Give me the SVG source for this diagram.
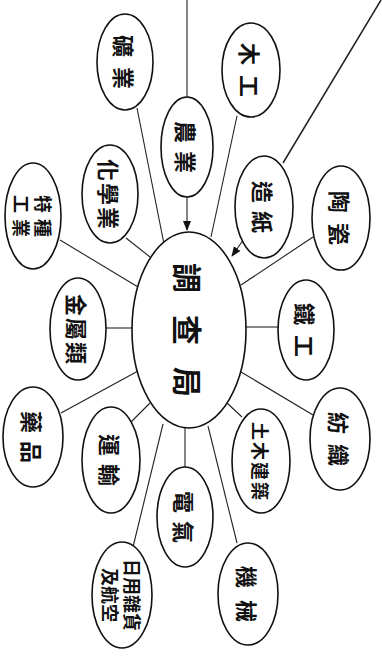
<svg xmlns="http://www.w3.org/2000/svg" width="382" height="661" viewBox="0 0 382 661">
<defs>
<style>
.n{fill:#fff;stroke:#111;stroke-width:1.6}
.c{stroke:#222;stroke-width:1.1;fill:none}
.t{font-family:"Noto Sans CJK TC","Noto Sans CJK SC",sans-serif;font-size:22px;fill:#111;text-anchor:middle;dominant-baseline:central;font-weight:bold}
.s{font-size:18px}
.m{font-size:30px;letter-spacing:22px}
</style>
<marker id="ah" markerWidth="10" markerHeight="10" refX="9" refY="5" orient="auto" markerUnits="userSpaceOnUse">
<path d="M0,1 L10,5 L0,9 z" fill="#111"/>
</marker>
</defs>
<rect width="382" height="661" fill="#fff"/>
<g id="connectors">
<line class="c" x1="187" y1="0" x2="187" y2="97"/>
<line class="c" x1="187" y1="197" x2="187" y2="230" marker-end="url(#ah)"/>
<line class="c" x1="381" y1="0" x2="283" y2="163" style="stroke-width:1.5"/>
<line class="c" x1="246" y1="236" x2="232" y2="256" marker-end="url(#ah)"/>
<line class="c" x1="137" y1="108" x2="164" y2="244"/>
<line class="c" x1="237" y1="116" x2="211" y2="237"/>
<line class="c" x1="126" y1="238" x2="150" y2="257"/>
<line class="c" x1="60" y1="240" x2="138" y2="287"/>
<line class="c" x1="106" y1="328" x2="133" y2="328"/>
<line class="c" x1="61" y1="413" x2="138" y2="371"/>
<line class="c" x1="130" y1="423" x2="150" y2="403"/>
<line class="c" x1="185" y1="428" x2="185" y2="467"/>
<line class="c" x1="133" y1="547" x2="163" y2="424"/>
<line class="c" x1="237" y1="543" x2="208" y2="426"/>
<line class="c" x1="242" y1="417" x2="227" y2="403"/>
<line class="c" x1="313" y1="415" x2="241" y2="372"/>
<line class="c" x1="246" y1="327" x2="278" y2="327"/>
<line class="c" x1="241" y1="285" x2="313" y2="237"/>
</g>
<g id="center"><ellipse class="n" cx="189" cy="330" rx="57" ry="98"/><text class="t m" transform="rotate(90 189 330)" x="200" y="330">調查局</text></g>
<g id="n-kuangye"><ellipse class="n" cx="125" cy="62" rx="28" ry="48"/><text class="t" transform="rotate(90 125 62)" x="130" y="62" style="letter-spacing:10px">礦業</text></g>
<g id="n-mugong"><ellipse class="n" cx="251" cy="70" rx="29" ry="47"/><text class="t" transform="rotate(90 251 70)" x="256" y="70" style="letter-spacing:10px">木工</text></g>
<g id="n-nongye"><ellipse class="n" cx="187" cy="147" rx="26" ry="50"/><text class="t" transform="rotate(90 187 147)" x="191" y="147" style="letter-spacing:8px">農業</text></g>
<g id="n-huaxue"><ellipse class="n" cx="110" cy="194" rx="28" ry="49"/><text class="t" transform="rotate(90 110 194)" x="111" y="194" style="letter-spacing:2px">化學業</text></g>
<g id="n-tezhong"><ellipse class="n" cx="33" cy="216" rx="28" ry="53"/><text class="t s" transform="rotate(90 33 216)" x="33" y="216" style="letter-spacing:6px"><tspan x="36" dy="-11">特種</tspan><tspan x="36" dy="22">工業</tspan></text></g>
<g id="n-jinshu"><ellipse class="n" cx="78" cy="329" rx="28" ry="51"/><text class="t" transform="rotate(90 78 329)" x="79" y="329" style="letter-spacing:2px">金屬類</text></g>
<g id="n-yaopin"><ellipse class="n" cx="33" cy="437" rx="30" ry="50"/><text class="t" transform="rotate(90 33 437)" x="37" y="437" style="letter-spacing:8px">藥品</text></g>
<g id="n-yunshu"><ellipse class="n" cx="111" cy="460" rx="29" ry="53"/><text class="t" transform="rotate(90 111 460)" x="115" y="460" style="letter-spacing:8px">運輸</text></g>
<g id="n-dianqi"><ellipse class="n" cx="185" cy="517" rx="28" ry="50"/><text class="t" transform="rotate(90 185 517)" x="189" y="517" style="letter-spacing:8px">電氣</text></g>
<g id="n-riyong"><ellipse class="n" cx="122" cy="595" rx="30" ry="53"/><text class="t s" transform="rotate(90 122 595)" x="122" y="595"><tspan x="122" dy="-11">日用雜貨</tspan><tspan x="122" dy="22">及航空</tspan></text></g>
<g id="n-jixie"><ellipse class="n" cx="248" cy="594" rx="30" ry="51"/><text class="t" transform="rotate(90 248 594)" x="254" y="594" style="letter-spacing:12px">機械</text></g>
<g id="n-tumu"><ellipse class="n" cx="261" cy="461" rx="29" ry="52"/><text class="t s" transform="rotate(90 261 461)" x="262" y="461" style="letter-spacing:2px">土木建築</text></g>
<g id="n-fangzhi"><ellipse class="n" cx="340" cy="439" rx="30" ry="51"/><text class="t" transform="rotate(90 340 439)" x="345" y="439" style="letter-spacing:10px">紡織</text></g>
<g id="n-tiegong"><ellipse class="n" cx="306" cy="330" rx="28" ry="50"/><text class="t" transform="rotate(90 306 330)" x="311" y="330" style="letter-spacing:10px">鐵工</text></g>
<g id="n-taoci"><ellipse class="n" cx="341" cy="218" rx="29" ry="52"/><text class="t" transform="rotate(90 341 218)" x="346" y="218" style="letter-spacing:10px">陶瓷</text></g>
<g id="n-zaozhi"><ellipse class="n" cx="264" cy="207" rx="29" ry="51"/><text class="t" transform="rotate(90 264 207)" x="268" y="207" style="letter-spacing:8px">造紙</text></g>
</svg>
